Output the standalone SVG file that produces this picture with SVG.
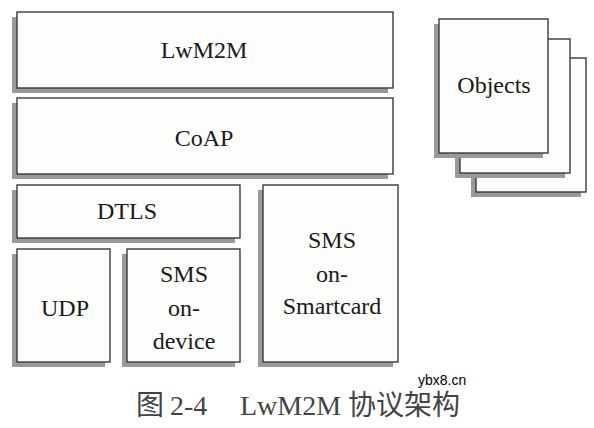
<svg xmlns="http://www.w3.org/2000/svg" width="594" height="428" viewBox="0 0 594 428">
<style>
.sh{fill:#9a9a9a}
.bx{fill:#fdfdfb;stroke:#3a3a3a;stroke-width:1.4}
.t{font-family:"Liberation Serif","Times New Roman",serif;font-size:24px;fill:#1a1a1a;text-anchor:middle}
.cap{font-family:"Liberation Serif","Noto Sans CJK SC",serif;font-size:28px;fill:#444}
.wm{font-family:"Liberation Sans",Arial,sans-serif;font-size:14px;fill:#000}
</style>
<rect width="594" height="428" fill="#fff"/>
<g id="lwm2m">
<rect class="sh" x="12" y="17" width="376" height="76"/>
<rect class="bx" x="17" y="12" width="376" height="76"/>
<text class="t" x="204" y="58">LwM2M</text>
</g>
<g id="coap">
<rect class="sh" x="12" y="103" width="376" height="76"/>
<rect class="bx" x="17" y="98" width="376" height="76"/>
<text class="t" x="204" y="146">CoAP</text>
</g>
<g id="dtls">
<rect class="sh" x="12" y="190" width="223" height="53"/>
<rect class="bx" x="17" y="185" width="223" height="53"/>
<text class="t" x="127" y="219">DTLS</text>
</g>
<g id="udp">
<rect class="sh" x="12" y="254" width="93" height="113"/>
<rect class="bx" x="17" y="249" width="93" height="113"/>
<text class="t" x="65" y="316">UDP</text>
</g>
<g id="sms-device">
<rect class="sh" x="122" y="254" width="113" height="113"/>
<rect class="bx" x="127" y="249" width="113" height="113"/>
<text class="t" x="184" y="282">SMS</text>
<text class="t" x="184" y="316">on-</text>
<text class="t" x="184" y="349">device</text>
</g>
<g id="sms-smartcard">
<rect class="sh" x="258" y="190" width="135" height="177"/>
<rect class="bx" x="263" y="185" width="135" height="177"/>
<text class="t" x="332" y="248">SMS</text>
<text class="t" x="332" y="282">on-</text>
<text class="t" x="332" y="314">Smartcard</text>
</g>
<g id="objects">
<rect class="sh" x="471" y="63" width="110" height="134"/>
<rect class="bx" x="476" y="58" width="110" height="134"/>
<rect class="sh" x="455" y="44" width="110" height="134"/>
<rect class="bx" x="460" y="39" width="110" height="134"/>
<rect class="sh" x="434" y="24" width="109" height="134"/>
<rect class="bx" x="439" y="19" width="109" height="134"/>
<text class="t" x="494" y="93">Objects</text>
</g>
<g id="caption">
<text class="cap" x="136" y="415">图</text>
<text class="cap" x="170" y="415">2-4</text>
<text class="cap" x="240" y="415">LwM2M 协议架构</text>
<text class="wm" x="418" y="385">ybx8.cn</text>
</g>
</svg>
